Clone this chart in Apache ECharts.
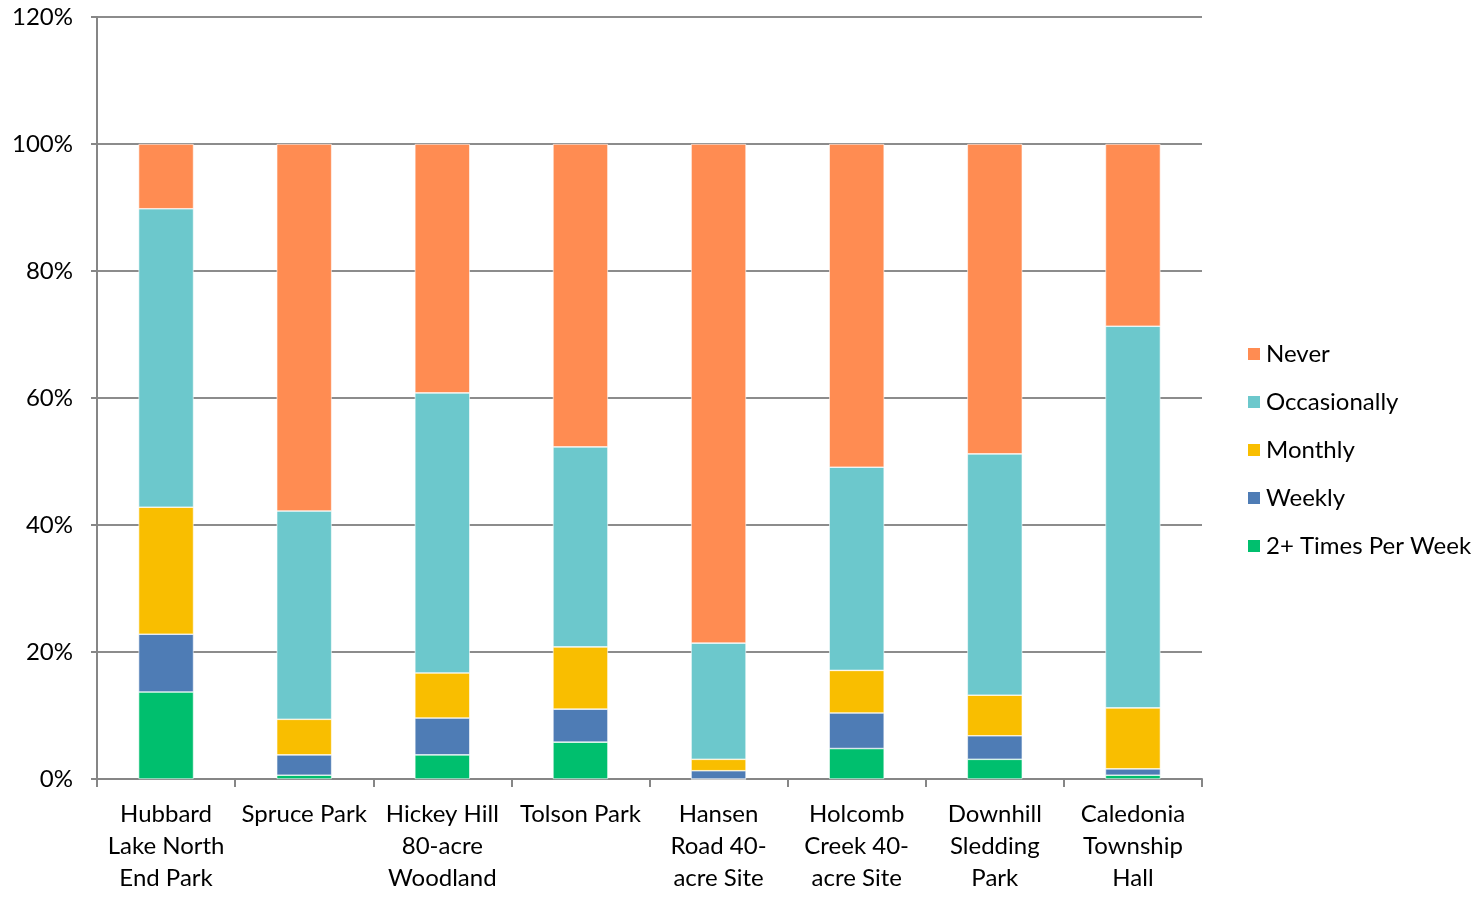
<!DOCTYPE html>
<html><head><meta charset="utf-8">
<script src="https://cdn.jsdelivr.net/npm/echarts@6/dist/echarts.min.js"></script>
<style>html,body{margin:0;padding:0;background:#fff}#c{width:1483px;height:908px}</style>
</head><body><div id="c"></div>
<script>
const categories = ["Hubbard\nLake North\nEnd Park","Spruce Park","Hickey Hill\n80-acre\nWoodland","Tolson Park","Hansen\nRoad 40-\nacre Site","Holcomb\nCreek 40-\nacre Site","Downhill\nSledding\nPark","Caledonia\nTownship\nHall"];
const twoPlus = [13.7, 0.6, 3.8, 5.8, 0.0, 4.8, 3.1, 0.6];
const weekly = [9.1, 3.2, 5.8, 5.2, 1.3, 5.6, 3.7, 1.0];
const monthly = [20.0, 5.6, 7.1, 9.8, 1.8, 6.7, 6.4, 9.6];
const occasionally = [47.0, 32.8, 44.1, 31.5, 18.3, 32.0, 38.0, 60.1];
const never = [10.2, 57.8, 39.2, 47.7, 78.6, 50.9, 48.8, 28.7];
const yTicks = [0, 20, 40, 60, 80, 100, 120];

const font = 'Lato';
function s(name, data, color){
  return {name, type:'bar', stack:'t', data, barWidth:55,
    itemStyle:{color, borderColor:'#ffffff', borderWidth:0.6}};
}
const chart = echarts.init(document.getElementById('c'));
chart.setOption({
  animation:false,
  textStyle:{fontFamily:font},
  grid:{left:97, right:281, top:17, bottom:129, containLabel:false},
  legend:{orient:'vertical', left:1241, top:337, itemWidth:14, itemHeight:14, itemGap:24,
    icon:'rect',
    textStyle:{fontSize:24, color:'#000', fontFamily:font},
    data:['Never','Occasionally','Monthly','Weekly','2+ Times Per Week']},
  xAxis:{type:'category', data:categories,
    axisLine:{lineStyle:{color:'#868686', width:2}},
    axisTick:{show:true, length:8, lineStyle:{color:'#868686', width:2}, alignWithLabel:false},
    axisLabel:{fontSize:24, color:'#000', lineHeight:32, margin:19, interval:0, fontFamily:font}},
  yAxis:{type:'value', min:0, max:120, interval:20,
    axisLine:{show:true, lineStyle:{color:'#868686', width:2}},
    axisTick:{show:true, length:6, lineStyle:{color:'#868686', width:2}},
    splitLine:{lineStyle:{color:'#8c8c8c', width:2}},
    axisLabel:{fontSize:24, color:'#000', margin:24, fontFamily:font,
      formatter:v=>yTicks.includes(v)?v+'%':''}},
  series:[
    s('2+ Times Per Week', twoPlus, '#00bf6e'),
    s('Weekly', weekly, '#4e7cb5'),
    s('Monthly', monthly, '#f9be00'),
    s('Occasionally', occasionally, '#6cc8cc'),
    s('Never', never, '#ff8c52')
  ]
});
</script></body></html>
